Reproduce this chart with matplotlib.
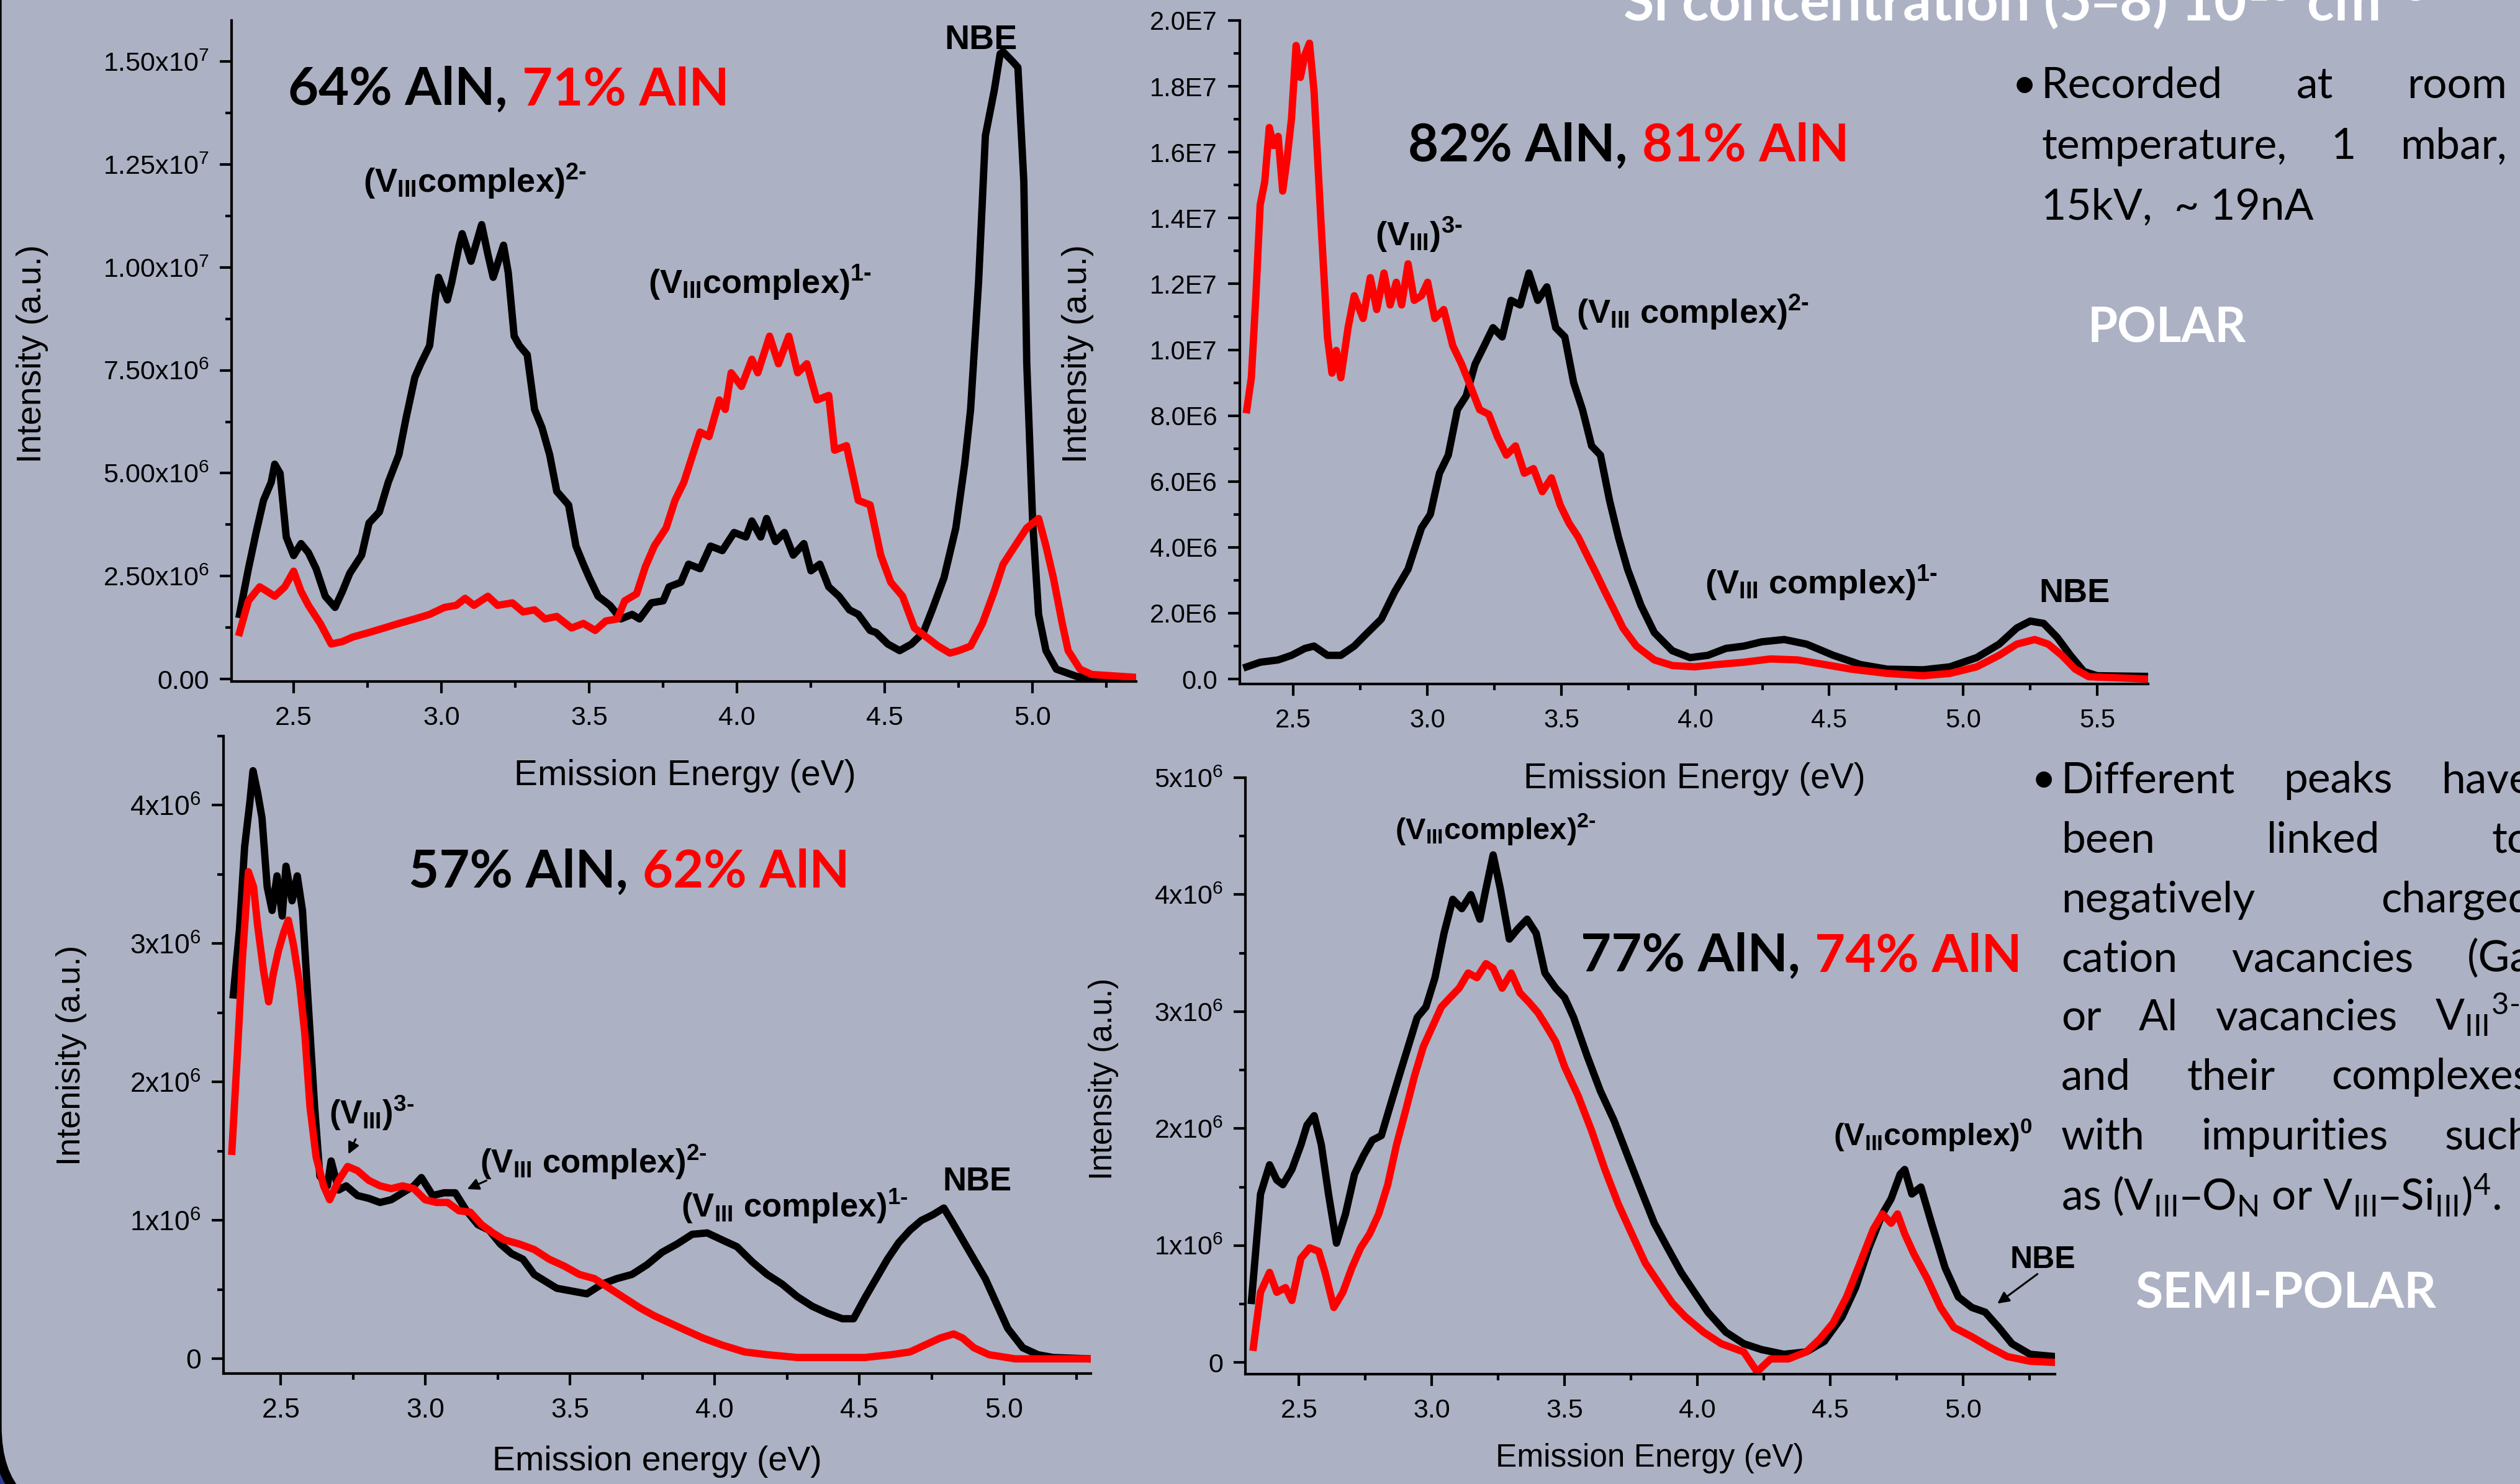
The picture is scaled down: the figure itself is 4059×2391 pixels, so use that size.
import matplotlib
matplotlib.use("Agg")
import matplotlib.pyplot as plt
import matplotlib.transforms as mtransforms
from matplotlib.patches import FancyBboxPatch, FancyArrowPatch
from matplotlib.ticker import MultipleLocator
import numpy as np

plt.rcParams['font.family'] = ['Liberation Sans', 'DejaVu Sans']
plt.rcParams['mathtext.default'] = 'regular'

# ---------------- data: energy (eV), intensity (units of 1e6) ----------------
p1_black_E = [2.317, 2.347, 2.373, 2.398, 2.424, 2.436, 2.454, 2.475, 2.5, 2.525, 2.55, 2.576, 2.607, 2.64,
              2.665, 2.69, 2.73, 2.755, 2.79, 2.82, 2.856, 2.88, 2.91, 2.93, 2.96, 2.98, 2.99, 3.02, 3.035,
              3.06, 3.07, 3.10, 3.116, 3.136, 3.157, 3.175, 3.21, 3.226, 3.246, 3.264, 3.29, 3.315, 3.34,
              3.366, 3.39, 3.43, 3.455, 3.48, 3.5, 3.53, 3.57, 3.607, 3.645, 3.67, 3.71, 3.75, 3.77, 3.81,
              3.836, 3.875, 3.91, 3.95, 3.99, 4.03, 4.05, 4.08, 4.10, 4.13, 4.16, 4.19, 4.226, 4.25, 4.28,
              4.31, 4.345, 4.38, 4.41, 4.45, 4.47, 4.51, 4.55, 4.59, 4.63, 4.66, 4.70, 4.74, 4.77, 4.79,
              4.817, 4.84, 4.87, 4.89, 4.90, 4.93, 4.95, 4.97, 4.98, 5.0, 5.02, 5.045, 5.08, 5.15, 5.25, 5.35]
p1_black_I = [1.57, 2.68, 3.56, 4.34, 4.78, 5.22, 5.0, 3.45, 3.0, 3.29, 3.07, 2.68, 2.01, 1.74, 2.13, 2.57,
              3.01, 3.79, 4.06, 4.78, 5.45, 6.33, 7.33, 7.66, 8.10, 9.32, 9.76, 9.21, 9.65, 10.54, 10.82,
              10.15, 10.54, 11.04, 10.32, 9.76, 10.54, 9.87, 8.33, 8.10, 7.88, 6.55, 6.11, 5.45, 4.56, 4.23,
              3.23, 2.79, 2.46, 2.01, 1.79, 1.46, 1.57, 1.46, 1.85, 1.90, 2.24, 2.35, 2.79, 2.68, 3.23, 3.12,
              3.56, 3.45, 3.84, 3.45, 3.90, 3.34, 3.56, 3.01, 3.29, 2.63, 2.79, 2.24, 2.01, 1.68, 1.57, 1.18,
              1.13, 0.85, 0.69, 0.85, 1.13, 1.68, 2.46, 3.67, 5.22, 6.55, 9.65, 13.2, 14.3, 15.19, 15.24,
              15.02, 14.86, 12.09, 7.66, 3.81, 1.57, 0.69, 0.24, 0.06, 0.02, 0.02]
p1_red_E = [2.317, 2.347, 2.385, 2.41, 2.436, 2.47, 2.5, 2.525, 2.55, 2.59, 2.627, 2.665, 2.70, 2.755, 2.806,
            2.856, 2.91, 2.96, 3.01, 3.05, 3.08, 3.11, 3.157, 3.19, 3.24, 3.276, 3.315, 3.35, 3.39, 3.44,
            3.48, 3.52, 3.556, 3.595, 3.62, 3.66, 3.69, 3.72, 3.76, 3.79, 3.82, 3.85, 3.875, 3.905, 3.94,
            3.96, 3.98, 4.015, 4.05, 4.07, 4.11, 4.14, 4.175, 4.205, 4.236, 4.27, 4.31, 4.33, 4.37, 4.41,
            4.45, 4.486, 4.52, 4.56, 4.60, 4.64, 4.68, 4.72, 4.75, 4.79, 4.83, 4.87, 4.90, 4.94, 4.98, 5.02,
            5.045, 5.07, 5.1, 5.12, 5.16, 5.2, 5.35]
p1_red_I = [1.13, 1.90, 2.24, 2.13, 2.01, 2.24, 2.62, 2.13, 1.79, 1.35, 0.85, 0.91, 1.02, 1.13, 1.24, 1.35,
            1.46, 1.57, 1.74, 1.79, 1.96, 1.79, 2.01, 1.79, 1.85, 1.63, 1.68, 1.46, 1.52, 1.24, 1.35, 1.18,
            1.41, 1.46, 1.90, 2.07, 2.73, 3.23, 3.67, 4.34, 4.78, 5.45, 6.0, 5.89, 6.78, 6.55, 7.44, 7.11,
            7.77, 7.44, 8.33, 7.66, 8.33, 7.44, 7.66, 6.78, 6.89, 5.56, 5.67, 4.34, 4.23, 3.01, 2.35, 2.01,
            1.24, 1.02, 0.80, 0.63, 0.69, 0.80, 1.35, 2.13, 2.79, 3.23, 3.67, 3.90, 3.23, 2.46, 1.35, 0.69,
            0.24, 0.11, 0.04]

p2_black_E = [2.326, 2.376, 2.443, 2.493, 2.543, 2.577, 2.627, 2.677, 2.727, 2.777, 2.828, 2.878, 2.928,
              2.978, 3.011, 3.045, 3.078, 3.112, 3.145, 3.178, 3.212, 3.245, 3.279, 3.312, 3.346, 3.379,
              3.412, 3.446, 3.479, 3.513, 3.546, 3.579, 3.613, 3.646, 3.68, 3.713, 3.747, 3.797, 3.847,
              3.914, 3.98, 4.047, 4.114, 4.181, 4.248, 4.332, 4.415, 4.515, 4.616, 4.716, 4.85, 4.95, 5.05,
              5.134, 5.2, 5.25, 5.3, 5.35, 5.4, 5.45, 5.5, 5.685]
p2_black_I = [0.37, 0.51, 0.58, 0.72, 0.93, 1.0, 0.72, 0.72, 1.0, 1.41, 1.82, 2.65, 3.34, 4.59, 5.0, 6.25,
              6.8, 8.18, 8.6, 9.56, 10.12, 10.67, 10.39, 11.5, 11.36, 12.33, 11.5, 11.91, 10.67, 10.39, 9.0,
              8.18, 7.08, 6.8, 5.42, 4.31, 3.34, 2.24, 1.41, 0.86, 0.65, 0.72, 0.93, 1.0, 1.13, 1.2, 1.06,
              0.72, 0.44, 0.30, 0.28, 0.37, 0.65, 1.06, 1.55, 1.76, 1.69, 1.27, 0.72, 0.23, 0.1, 0.08]
p2_red_E = [2.326, 2.343, 2.36, 2.376, 2.393, 2.41, 2.426, 2.443, 2.46, 2.476, 2.493, 2.51, 2.526, 2.543,
            2.56, 2.577, 2.604, 2.627, 2.644, 2.66, 2.677, 2.704, 2.727, 2.76, 2.787, 2.811, 2.838, 2.861,
            2.884, 2.904, 2.928, 2.951, 2.978, 3.001, 3.028, 3.061, 3.095, 3.128, 3.162, 3.195, 3.229,
            3.262, 3.295, 3.329, 3.362, 3.396, 3.429, 3.463, 3.496, 3.529, 3.563, 3.596, 3.63, 3.663,
            3.697, 3.73, 3.78, 3.847, 3.914, 3.997, 4.081, 4.181, 4.281, 4.382, 4.482, 4.582, 4.716, 4.85,
            4.95, 5.05, 5.134, 5.2, 5.267, 5.317, 5.368, 5.418, 5.468, 5.685]
p2_red_I = [8.18, 9.15, 11.64, 14.4, 15.1, 16.75, 16.2, 16.48, 14.82, 15.78, 17.03, 19.24, 18.27, 18.96,
            19.31, 17.86, 13.71, 10.39, 9.29, 9.98, 9.15, 10.67, 11.64, 10.95, 12.19, 11.22, 12.33, 11.36,
            12.05, 11.36, 12.61, 11.5, 11.64, 12.05, 10.95, 11.22, 10.12, 9.56, 8.87, 8.18, 8.04, 7.35, 6.8,
            7.08, 6.25, 6.39, 5.69, 6.11, 5.28, 4.73, 4.31, 3.76, 3.21, 2.65, 2.1, 1.55, 1.0, 0.58, 0.41,
            0.37, 0.44, 0.51, 0.61, 0.58, 0.44, 0.30, 0.17, 0.10, 0.17, 0.37, 0.72, 1.06, 1.2, 1.06, 0.72,
            0.30, 0.07, 0.0]

p3_black_E = [2.336, 2.357, 2.375, 2.393, 2.404, 2.42, 2.435, 2.453, 2.47, 2.487, 2.505, 2.518, 2.539,
              2.557, 2.575, 2.596, 2.617, 2.635, 2.661, 2.674, 2.70, 2.726, 2.765, 2.804, 2.843, 2.882,
              2.921, 2.96, 2.986, 3.025, 3.064, 3.103, 3.142, 3.181, 3.22, 3.259, 3.298, 3.337, 3.376,
              3.415, 3.454, 3.506, 3.558, 3.61, 3.662, 3.714, 3.766, 3.818, 3.87, 3.922, 3.974, 4.025,
              4.077, 4.13, 4.181, 4.233, 4.285, 4.337, 4.389, 4.441, 4.48, 4.519, 4.558, 4.597, 4.636,
              4.675, 4.714, 4.753, 4.792, 4.818, 4.857, 4.896, 4.935, 4.974, 5.013, 5.065, 5.117, 5.169,
              5.299]
p3_black_I = [2.63, 3.1, 3.7, 4.02, 4.25, 4.09, 3.91, 3.41, 3.24, 3.49, 3.2, 3.56, 3.31, 3.49, 3.24, 2.53,
              1.82, 1.32, 1.25, 1.43, 1.22, 1.25, 1.18, 1.16, 1.13, 1.15, 1.20, 1.25, 1.31, 1.18, 1.20, 1.20,
              1.07, 0.97, 0.93, 0.83, 0.76, 0.72, 0.61, 0.56, 0.51, 0.49, 0.47, 0.54, 0.58, 0.61, 0.68, 0.77,
              0.83, 0.90, 0.91, 0.86, 0.81, 0.70, 0.61, 0.54, 0.45, 0.38, 0.33, 0.29, 0.29, 0.44, 0.58, 0.72,
              0.84, 0.93, 1.0, 1.04, 1.09, 1.0, 0.86, 0.72, 0.58, 0.40, 0.22, 0.08, 0.03, 0.01, 0.0]
p3_red_E = [2.331, 2.349, 2.367, 2.388, 2.406, 2.42, 2.44, 2.458, 2.474, 2.492, 2.51, 2.526, 2.544, 2.565,
            2.583, 2.601, 2.622, 2.648, 2.669, 2.70, 2.731, 2.765, 2.804, 2.843, 2.882, 2.921, 2.96, 2.999,
            3.038, 3.077, 3.116, 3.155, 3.194, 3.233, 3.272, 3.324, 3.376, 3.428, 3.48, 3.532, 3.584, 3.636,
            3.688, 3.74, 3.792, 3.844, 3.896, 3.96, 4.025, 4.103, 4.181, 4.285, 4.389, 4.519, 4.61, 4.675,
            4.727, 4.779, 4.826, 4.857, 4.896, 4.948, 5.039, 5.299]
p3_red_I = [1.5, 2.17, 2.88, 3.52, 3.41, 3.13, 2.81, 2.58, 2.78, 2.95, 3.08, 3.17, 2.99, 2.71, 2.35, 1.82,
            1.46, 1.25, 1.15, 1.29, 1.39, 1.36, 1.29, 1.25, 1.23, 1.25, 1.23, 1.15, 1.13, 1.13, 1.07, 1.06,
            0.97, 0.91, 0.86, 0.83, 0.79, 0.72, 0.67, 0.61, 0.58, 0.51, 0.44, 0.37, 0.31, 0.26, 0.21, 0.15,
            0.10, 0.05, 0.03, 0.01, 0.01, 0.01, 0.03, 0.05, 0.10, 0.15, 0.18, 0.15, 0.08, 0.03, 0.0, 0.0]

p4_black_E = [2.321, 2.355, 2.389, 2.416, 2.439, 2.473, 2.507, 2.53, 2.557, 2.584, 2.611, 2.641, 2.675,
              2.709, 2.743, 2.776, 2.81, 2.844, 2.877, 2.911, 2.945, 2.978, 3.012, 3.046, 3.079, 3.113,
              3.147, 3.181, 3.204, 3.231, 3.258, 3.292, 3.325, 3.359, 3.393, 3.426, 3.467, 3.5, 3.534,
              3.585, 3.635, 3.686, 3.737, 3.787, 3.838, 3.888, 3.939, 3.989, 4.04, 4.107, 4.175, 4.242,
              4.326, 4.41, 4.478, 4.545, 4.596, 4.646, 4.697, 4.73, 4.764, 4.781, 4.808, 4.842, 4.882,
              4.933, 4.983, 5.034, 5.084, 5.135, 5.185, 5.253, 5.347]
p4_black_I = [0.53, 1.44, 1.69, 1.56, 1.52, 1.65, 1.86, 2.03, 2.11, 1.86, 1.44, 1.02, 1.27, 1.61, 1.77, 1.90,
              1.94, 2.20, 2.45, 2.70, 2.95, 3.04, 3.29, 3.67, 3.96, 3.88, 4.0, 3.79, 4.05, 4.34, 4.05, 3.62,
              3.71, 3.79, 3.67, 3.33, 3.2, 3.12, 2.95, 2.62, 2.32, 2.07, 1.77, 1.48, 1.19, 0.98, 0.77, 0.60,
              0.43, 0.26, 0.16, 0.11, 0.07, 0.09, 0.18, 0.39, 0.64, 0.98, 1.27, 1.40, 1.61, 1.65, 1.44, 1.50,
              1.19, 0.81, 0.56, 0.47, 0.43, 0.30, 0.16, 0.07, 0.05]
p4_red_E = [2.328, 2.355, 2.389, 2.416, 2.449, 2.473, 2.507, 2.54, 2.574, 2.598, 2.631, 2.665, 2.699, 2.732,
            2.766, 2.8, 2.834, 2.867, 2.901, 2.935, 2.968, 3.002, 3.036, 3.069, 3.103, 3.137, 3.17, 3.204,
            3.231, 3.265, 3.299, 3.332, 3.366, 3.4, 3.433, 3.467, 3.5, 3.551, 3.602, 3.652, 3.703, 3.753,
            3.804, 3.854, 3.905, 3.955, 4.023, 4.09, 4.175, 4.225, 4.276, 4.343, 4.41, 4.461, 4.512, 4.562,
            4.613, 4.663, 4.697, 4.73, 4.754, 4.781, 4.815, 4.865, 4.916, 4.966, 5.034, 5.101, 5.168, 5.253,
            5.347]
p4_red_I = [0.13, 0.60, 0.77, 0.60, 0.64, 0.53, 0.89, 0.98, 0.95, 0.77, 0.47, 0.60, 0.81, 0.98, 1.10, 1.27,
            1.52, 1.86, 2.15, 2.45, 2.70, 2.87, 3.04, 3.12, 3.20, 3.33, 3.29, 3.41, 3.37, 3.20, 3.33, 3.16,
            3.08, 2.99, 2.87, 2.74, 2.53, 2.28, 1.98, 1.65, 1.35, 1.10, 0.85, 0.68, 0.51, 0.39, 0.26, 0.16,
            0.09, -0.08, 0.03, 0.03, 0.09, 0.20, 0.34, 0.56, 0.85, 1.14, 1.27, 1.19, 1.27, 1.10, 0.93, 0.72,
            0.47, 0.30, 0.22, 0.13, 0.05, 0.01, 0.0]

# tick values and labels
p1_xticks = [2.5, 3.0, 3.5, 4.0, 4.5, 5.0]
p1_xticklabels = ['2.5', '3.0', '3.5', '4.0', '4.5', '5.0']
p1_yticks = [0, 2.5e6, 5e6, 7.5e6, 1e7, 1.25e7, 1.5e7]
p1_yticklabels = ['0.00', '2.50x10$^{6}$', '5.00x10$^{6}$', '7.50x10$^{6}$',
                  '1.00x10$^{7}$', '1.25x10$^{7}$', '1.50x10$^{7}$']
p2_xticks = [2.5, 3.0, 3.5, 4.0, 4.5, 5.0, 5.5]
p2_xticklabels = ['2.5', '3.0', '3.5', '4.0', '4.5', '5.0', '5.5']
p2_yticks = [0, 2e6, 4e6, 6e6, 8e6, 1e7, 1.2e7, 1.4e7, 1.6e7, 1.8e7, 2e7]
p2_yticklabels = ['0.0', '2.0E6', '4.0E6', '6.0E6', '8.0E6', '1.0E7', '1.2E7', '1.4E7', '1.6E7', '1.8E7', '2.0E7']
p3_xticks = [2.5, 3.0, 3.5, 4.0, 4.5, 5.0]
p3_xticklabels = ['2.5', '3.0', '3.5', '4.0', '4.5', '5.0']
p3_yticks = [0, 1e6, 2e6, 3e6, 4e6]
p3_yticklabels = ['0', '1x10$^{6}$', '2x10$^{6}$', '3x10$^{6}$', '4x10$^{6}$']
p4_xticks = [2.5, 3.0, 3.5, 4.0, 4.5, 5.0]
p4_xticklabels = ['2.5', '3.0', '3.5', '4.0', '4.5', '5.0']
p4_yticks = [0, 1e6, 2e6, 3e6, 4e6, 5e6]
p4_yticklabels = ['0', '1x10$^{6}$', '2x10$^{6}$', '3x10$^{6}$', '4x10$^{6}$', '5x10$^{6}$']

# ---------------- figure ----------------
W, H, DPI = 4059, 2391, 100
PX = mtransforms.IdentityTransform()
BG = '#ACB1C4'
BLUE = '#2D3E92'
RED = '#FF0000'
ARIAL = ['Liberation Sans', 'DejaVu Sans']
CAL = ['Lato', 'DejaVu Sans']
HY = '\u2010'  # short hyphen used in the charge superscripts

fig = plt.figure(figsize=(W / DPI, H / DPI), dpi=DPI, facecolor=BLUE)
fig.add_artist(FancyBboxPatch((-5, -57), W + 300, H + 300,
                              boxstyle='round,pad=0,rounding_size=150',
                              fc=BG, ec='black', lw=11, transform=PX, zorder=-10))


def make_axes(l, r, t, b):
    ax = fig.add_axes([l / W, 1 - b / H, (r - l) / W, (b - t) / H])
    ax.set_facecolor('none')
    return ax


def style(ax, xlim, ylim, xt, xtl, yt, ytl, yminor, tsize):
    for s in ('top', 'right'):
        ax.spines[s].set_visible(False)
    for s in ('left', 'bottom'):
        ax.spines[s].set_linewidth(3)
    ax.set_xlim(*xlim)
    ax.set_ylim(*ylim)
    ax.set_xticks(xt, xtl)
    ax.set_yticks(yt, ytl)
    ax.xaxis.set_minor_locator(MultipleLocator(0.25))
    ax.yaxis.set_minor_locator(MultipleLocator(yminor))
    ax.tick_params(which='major', direction='out', length=14, width=3, labelsize=tsize)
    ax.tick_params(which='minor', direction='out', length=7, width=3)
    ax.tick_params(axis='x', which='major', pad=14)
    ax.tick_params(axis='y', which='major', pad=12)


def labels(ax, xl, xc, xs, yl, yc, ys):
    ax.set_xlabel(xl, fontsize=xs)
    ax.xaxis.set_label_coords(xc[0], H - xc[1], transform=PX)
    ax.xaxis.label.set_va('center')
    ax.set_ylabel(yl, fontsize=ys)
    ax.yaxis.set_label_coords(yc[0], H - yc[1], transform=PX)
    ax.yaxis.label.set_va('center')


def txt(x, yb, s, size, family=ARIAL, weight='bold', color='black'):
    return fig.text(x, H - yb, s, fontsize=size, family=family, weight=weight, color=color,
                    transform=PX, ha='left', va='baseline')


def pair(x, yb, s1, s2, size):
    r = fig.canvas.get_renderer()
    t1 = txt(x, yb, s1, size, family=CAL)
    w = t1.get_window_extent(r).width
    txt(x + w + 0.28 * size * DPI / 72, yb, s2, size, family=CAL, color=RED)


def justify(words, xl, xr, yb, size):
    r = fig.canvas.get_renderer()
    ts = [txt(0, yb, w, size, family=CAL, weight='normal') for w in words]
    ws = [t.get_window_extent(r).width for t in ts]
    gap = (xr - xl - sum(ws)) / (len(ws) - 1)
    x = xl
    for t, w in zip(ts, ws):
        t.set_x(x)
        x += w + gap


def arrow(tail, tip):
    fig.add_artist(FancyArrowPatch((tail[0], H - tail[1]), (tip[0], H - tip[1]),
                                   arrowstyle='-|>', mutation_scale=28, lw=2.2,
                                   color='black', transform=PX))


M = 1e6
LW = 8.5

# Panel 1
ax1 = make_axes(373, 1830, 33, 1098)
ax1.plot(p1_black_E, np.array(p1_black_I) * M, color='black', lw=LW)
ax1.plot(p1_red_E, np.array(p1_red_I) * M, color=RED, lw=LW)
style(ax1, (2.29, 5.35), (-0.06e6, 16.0e6), p1_xticks, p1_xticklabels, p1_yticks, p1_yticklabels, 1.25e6, 31)
labels(ax1, 'Emission Energy (eV)', (1103, 1250), 41, 'Intensity (a.u.)', (52, 570), 40)

# Panel 2
ax2 = make_axes(1997, 3460, 33, 1102)
ax2.plot(p2_black_E, np.array(p2_black_I) * M, color='black', lw=LW)
ax2.plot(p2_red_E, np.array(p2_red_I) * M, color=RED, lw=LW)
style(ax2, (2.3, 5.69), (-0.15e6, 20.0e6), p2_xticks, p2_xticklabels, p2_yticks, p2_yticklabels, 1e6, 30)
labels(ax2, 'Emission Energy (eV)', (2729, 1255), 41, 'Intensity (a.u.)', (1736, 570), 40)

# Panel 3
ax3 = make_axes(360, 1757, 1186, 2213)
ax3.plot(p3_black_E, np.array(p3_black_I) * M, color='black', lw=LW)
ax3.plot(p3_red_E, np.array(p3_red_I) * M, color=RED, lw=LW)
style(ax3, (2.302, 5.3), (-0.106e6, 4.5e6), p3_xticks, p3_xticklabels, p3_yticks, p3_yticklabels, 0.5e6, 32)
labels(ax3, 'Emission energy (eV)', (1058, 2355), 40, 'Intenisity (a.u.)', (115, 1700), 39)

# Panel 4
ax4 = make_axes(2006, 3310, 1253, 2214)
ax4.plot(p4_black_E, np.array(p4_black_I) * M, color='black', lw=LW)
ax4.plot(p4_red_E, np.array(p4_red_I) * M, color=RED, lw=LW)
style(ax4, (2.298, 5.347), (-0.1e6, 5.0e6), p4_xticks, p4_xticklabels, p4_yticks, p4_yticklabels, 0.5e6, 31)
labels(ax4, 'Emission Energy (eV)', (2657, 2349), 37, 'Intensity (a.u.)', (1778, 1738), 37)

# ---------------- annotations ----------------
BIG = 61
pair(464, 169, '64% AlN,', '71% AlN', BIG)
pair(2268, 260, '82% AlN,', '81% AlN', BIG)
pair(658, 1430, '57% AlN,', '62% AlN', BIG)
pair(2546, 1565, '77% AlN,', '74% AlN', BIG)

txt(585, 310, '(V$_{III}$complex)$^{2' + HY + '}$', 39)
txt(1044, 473, '(V$_{III}$complex)$^{1' + HY + '}$', 39)
txt(1521, 79, 'NBE', 40)

txt(2215, 396, '(V$_{III}$)$^{3' + HY + '}$', 39)
txt(2539, 521, '(V$_{III}$ complex)$^{2' + HY + '}$', 39)
txt(2746, 957, '(V$_{III}$ complex)$^{1' + HY + '}$', 39)
txt(3284, 970, 'NBE', 39)

txt(530, 1811, '(V$_{III}$)$^{3' + HY + '}$', 38)
txt(773, 1890, '(V$_{III}$ complex)$^{2' + HY + '}$', 38)
txt(1097, 1961, '(V$_{III}$ complex)$^{1' + HY + '}$', 38)
txt(1518, 1918, 'NBE', 38)
arrow((574, 1833), (560, 1862))
arrow((786, 1901), (750, 1917))

txt(2247, 1352, '(V$_{III}$complex)$^{2' + HY + '}$', 35)
txt(2953, 1846, '(V$_{III}$complex)$^{0}$', 36)
txt(3238, 2043, 'NBE', 36)
arrow((3284, 2051), (3215, 2102))

# title (partly outside the slide area, as in the original)
txt(2614, 33, 'Si concentration (5–8) 10$^{18}$ cm$^{-3}$', 65, family=CAL, color='white')

# polar bullet
BUL = 50
txt(3241, 158, '•', BUL, family=CAL, weight='normal')
justify(['Recorded', 'at', 'room'], 3288, 4038, 158, BUL)
justify(['temperature,', '1', 'mbar,'], 3288, 4038, 256, BUL)
txt(3288, 354, '15kV,  ~ 19nA', BUL, family=CAL, weight='normal')
txt(3363, 551, 'POLAR', 56, family=CAL, color='white')

# semi-polar bullet
txt(3272, 1277, '•', BUL, family=CAL, weight='normal')
XR = 4078
justify(['Different', 'peaks', 'have'], 3320, XR, 1277, BUL)
justify(['been', 'linked', 'to'], 3320, XR, 1374, BUL)
justify(['negatively', 'charged'], 3320, XR, 1470, BUL)
justify(['cation', 'vacancies', '(Ga'], 3320, XR, 1565, BUL)
justify(['or', 'Al', 'vacancies', 'V$_{III}$$^{3' + HY + '}$)'], 3320, XR, 1660, BUL)
justify(['and', 'their', 'complexes'], 3320, XR, 1755, BUL)
justify(['with', 'impurities', 'such'], 3320, XR, 1852, BUL)
txt(3320, 1949, 'as (V$_{III}$–O$_{N}$ or V$_{III}$–Si$_{III}$)$^{4}$.', BUL, family=CAL, weight='normal')
txt(3439, 2108, 'SEMI-POLAR', 58, family=CAL, color='white')

fig.savefig('out.png', dpi=DPI, facecolor=fig.get_facecolor())
